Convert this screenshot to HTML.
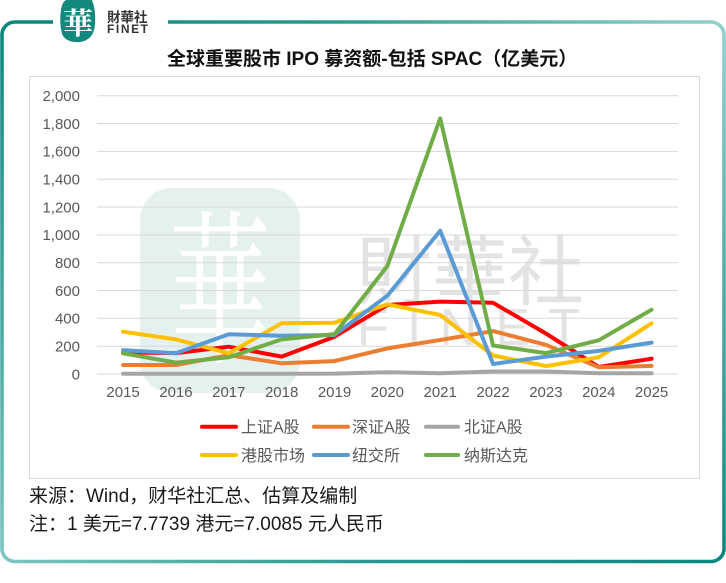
<!DOCTYPE html>
<html><head><meta charset="utf-8">
<style>
html,body{margin:0;padding:0;background:#fff;}
svg{display:block;}
</style></head>
<body>
<svg width="726" height="583" viewBox="0 0 726 583" xmlns="http://www.w3.org/2000/svg">
<defs>
<linearGradient id="gTop" gradientUnits="userSpaceOnUse" x1="0" y1="0" x2="726" y2="0">
<stop offset="0" stop-color="#0a877c"/><stop offset="0.45" stop-color="#2a998f"/><stop offset="1" stop-color="#93d1cc"/></linearGradient>
<linearGradient id="gRight" gradientUnits="userSpaceOnUse" x1="0" y1="22" x2="0" y2="562">
<stop offset="0" stop-color="#93d1cc"/><stop offset="1" stop-color="#0a877c"/></linearGradient>
<linearGradient id="gBottom" gradientUnits="userSpaceOnUse" x1="0" y1="0" x2="726" y2="0">
<stop offset="0" stop-color="#7cc6c0"/><stop offset="0.5" stop-color="#2a998f"/><stop offset="1" stop-color="#0a877c"/></linearGradient>
<linearGradient id="gLeft" gradientUnits="userSpaceOnUse" x1="0" y1="22" x2="0" y2="562">
<stop offset="0" stop-color="#0a877c"/><stop offset="1" stop-color="#7cc6c0"/></linearGradient>
</defs>

<!-- outer frame -->
<g fill="none" stroke-width="3.6">
<path d="M2,36 A13,13 0 0 1 15,22 L53,22" stroke="#0a877c"/>
<path d="M168,22 L711,22 A13,13 0 0 1 724,35" stroke="url(#gTop)"/>
<path d="M724,35 L724,548" stroke="url(#gRight)"/>
<path d="M724,548 A13,13 0 0 1 711,561.5 L15,561.5 A13,13 0 0 1 2,548" stroke="url(#gBottom)"/>
<path d="M2,36 L2,548" stroke="url(#gLeft)"/>
</g>

<!-- logo -->
<path d="M66,0 L92,0 Q96,10 95,24 Q94,40 80,42 Q66,43 62,34 Q59,22 61,10 Q62,2 66,0 Z" fill="#13897d"/>
<text x="78" y="34" font-family="'Noto Serif CJK SC','Noto Sans CJK SC',serif" font-size="30" font-weight="bold" fill="#fff" text-anchor="middle">華</text>
<text x="107" y="22" font-family="'Liberation Sans','Noto Sans CJK TC',sans-serif" font-size="13.5" font-weight="bold" fill="#333">財華社</text>
<text x="107" y="33" font-family="'Liberation Sans',sans-serif" font-size="12" font-weight="bold" fill="#333" textLength="41" lengthAdjust="spacing">FINET</text>

<!-- title -->
<text x="167" y="65" font-family="'Liberation Sans','Noto Sans CJK SC',sans-serif" font-size="19" font-weight="bold" fill="#111">全球重要股市 IPO 募资额-包括 SPAC（亿美元）</text>

<!-- chart box -->
<rect x="29.5" y="76.5" width="670" height="402" fill="none" stroke="#d9d9d9" stroke-width="1"/>

<!-- watermark -->
<rect x="140" y="188" width="160" height="205" rx="32" ry="32" fill="#e4f1ef"/>
<text x="0" y="0" transform="translate(220,350) scale(0.8,1.3)" font-family="'Noto Serif CJK SC','Noto Sans CJK SC',serif" font-size="128" fill="#ffffff" text-anchor="middle">華</text>
<text x="356" y="299" font-family="'Liberation Sans','Noto Sans CJK TC',sans-serif" font-size="76" fill="#e3e3e3">財華社</text>
<text x="357" y="345" font-family="'Liberation Sans',sans-serif" font-size="52" fill="#e3e3e3" textLength="223" lengthAdjust="spacing">FINET</text>

<!-- gridlines -->
<g stroke="#d9d9d9" stroke-width="1">
<line x1="97" x2="678" y1="95.7" y2="95.7"/>
<line x1="97" x2="678" y1="123.5" y2="123.5"/>
<line x1="97" x2="678" y1="151.4" y2="151.4"/>
<line x1="97" x2="678" y1="179.2" y2="179.2"/>
<line x1="97" x2="678" y1="207.0" y2="207.0"/>
<line x1="97" x2="678" y1="234.9" y2="234.9"/>
<line x1="97" x2="678" y1="262.7" y2="262.7"/>
<line x1="97" x2="678" y1="290.5" y2="290.5"/>
<line x1="97" x2="678" y1="318.3" y2="318.3"/>
<line x1="97" x2="678" y1="346.2" y2="346.2"/>
<line x1="97" x2="678" y1="374" y2="374"/>
</g>

<!-- y labels -->
<g font-family="'Liberation Sans',sans-serif" font-size="15" fill="#595959" text-anchor="end">
<text x="80" y="101">2,000</text>
<text x="80" y="128.8">1,800</text>
<text x="80" y="156.7">1,600</text>
<text x="80" y="184.5">1,400</text>
<text x="80" y="212.3">1,200</text>
<text x="80" y="240.2">1,000</text>
<text x="80" y="268">800</text>
<text x="80" y="295.8">600</text>
<text x="80" y="323.6">400</text>
<text x="80" y="351.5">200</text>
<text x="80" y="379.3">0</text>
</g>

<!-- x labels -->
<g font-family="'Liberation Sans',sans-serif" font-size="15" fill="#595959" text-anchor="middle">
<text x="123.1" y="397">2015</text>
<text x="175.95" y="397">2016</text>
<text x="228.8" y="397">2017</text>
<text x="281.65" y="397">2018</text>
<text x="334.5" y="397">2019</text>
<text x="387.35" y="397">2020</text>
<text x="440.2" y="397">2021</text>
<text x="493.05" y="397">2022</text>
<text x="545.9" y="397">2023</text>
<text x="598.75" y="397">2024</text>
<text x="651.6" y="397">2025</text>
</g>

<!-- series -->
<g fill="none" stroke-width="4" stroke-linejoin="round" stroke-linecap="round">
<polyline stroke="#ff0000" points="123.1,352.4 175.95,353.1 228.8,346.7 281.65,356.6 334.5,336.7 387.35,305.0 440.2,301.6 493.05,302.8 545.9,333.5 598.75,367.0 651.6,358.7"/>
<polyline stroke="#ed7d31" points="123.1,365.0 175.95,365.0 228.8,355.1 281.65,363.3 334.5,361.1 387.35,348.4 440.2,340.0 493.05,331.1 545.9,344.8 598.75,367.3 651.6,365.9"/>
<polyline stroke="#a5a5a5" points="123.1,373.7 175.95,373.7 228.8,373.7 281.65,373.7 334.5,373.6 387.35,372.3 440.2,373.2 493.05,371.5 545.9,371.5 598.75,373.3 651.6,373.3"/>
<polyline stroke="#ffc000" points="123.1,331.7 175.95,339.4 228.8,353.3 281.65,323.3 334.5,322.7 387.35,304.3 440.2,315.0 493.05,355.5 545.9,366.1 598.75,357.3 651.6,323.3"/>
<polyline stroke="#5b9bd5" points="123.1,350.1 175.95,353.3 228.8,334.3 281.65,335.7 334.5,335.0 387.35,295.7 440.2,230.7 493.05,364.0 545.9,356.6 598.75,350.9 651.6,342.6"/>
<polyline stroke="#70ad47" points="123.1,353.3 175.95,362.6 228.8,357.3 281.65,339.4 334.5,334.1 387.35,266.0 440.2,118.4 493.05,345.5 545.9,353.1 598.75,340.3 651.6,309.7"/>
</g>

<!-- legend -->
<g stroke-width="4" stroke-linecap="round">
<line x1="202" x2="236" y1="426.7" y2="426.7" stroke="#ff0000"/>
<line x1="314" x2="348" y1="426.7" y2="426.7" stroke="#ed7d31"/>
<line x1="426" x2="458" y1="426.7" y2="426.7" stroke="#a5a5a5"/>
<line x1="202" x2="236" y1="455" y2="455" stroke="#ffc000"/>
<line x1="314" x2="348" y1="455" y2="455" stroke="#5b9bd5"/>
<line x1="426" x2="458" y1="455" y2="455" stroke="#70ad47"/>
</g>
<g font-family="'Liberation Sans','Noto Sans CJK SC',sans-serif" font-size="16" fill="#595959">
<text x="241" y="432.5">上证A股</text>
<text x="352" y="432.5">深证A股</text>
<text x="464" y="432.5">北证A股</text>
<text x="241" y="460.8">港股市场</text>
<text x="352" y="460.8">纽交所</text>
<text x="464" y="460.8">纳斯达克</text>
</g>

<!-- footer -->
<g font-family="'Liberation Sans','Noto Sans CJK SC',sans-serif" font-size="19" fill="#1a1a1a">
<text x="29" y="502">来源：Wind，财华社汇总、估算及编制</text>
<text x="29" y="530">注：1 美元=7.7739 港元=7.0085 元人民币</text>
</g>
</svg>
</body></html>
